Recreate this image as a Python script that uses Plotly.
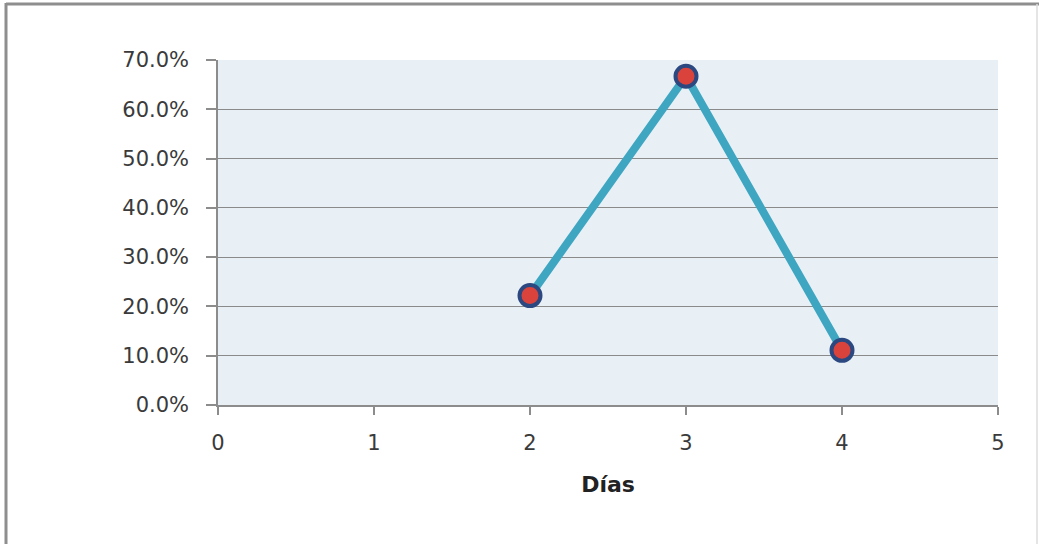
import plotly.graph_objects as go

# Share of cases by number of days
dias = [2, 3, 4]
porcentaje = [0.222, 0.667, 0.111]

x_ticks = [0, 1, 2, 3, 4, 5]
y_ticks = [0, 0.1, 0.2, 0.3, 0.4, 0.5, 0.6, 0.7]
y_labels = ["0.0%", "10.0%", "20.0%", "30.0%", "40.0%", "50.0%", "60.0%", "70.0%"]

fig = go.Figure()
fig.add_trace(go.Scatter(
    x=dias, y=porcentaje, mode="lines+markers",
    line=dict(color="#3FA6C2", width=8),
    marker=dict(size=21, color="#D9433B", line=dict(color="#2B4880", width=4)),
    hoverinfo="x+y", showlegend=False,
))

axis_font = dict(family="DejaVu Sans", size=21, color="#3A3A3A")
fig.update_xaxes(
    range=[0, 5], tickvals=x_ticks, ticktext=[str(v) for v in x_ticks],
    showgrid=False, zeroline=False, showline=True, linecolor="#8C8C8C", linewidth=1.5,
    ticks="outside", ticklen=8, tickcolor="#8C8C8C", tickwidth=1.5,
    tickfont=axis_font, ticklabelstandoff=10,
    title=dict(text="<b>Días</b>", font=dict(family="DejaVu Sans", size=22, color="#222222"), standoff=23),
)
fig.update_yaxes(
    range=[0, 0.7], tickvals=y_ticks, ticktext=y_labels,
    showgrid=True, gridcolor="#8A8A8A", gridwidth=1,
    zeroline=False, showline=True, linecolor="#8C8C8C", linewidth=1.5,
    ticks="outside", ticklen=10, tickcolor="#8C8C8C", tickwidth=1.5,
    tickfont=axis_font, ticklabelstandoff=13,
)

# Outer chart frame
fig.add_shape(type="line", xref="paper", yref="paper", x0=-212/780, x1=-212/780,
              y0=-139/345, y1=1 + 57/345, line=dict(color="#8E8E8E", width=3))
fig.add_shape(type="line", xref="paper", yref="paper", x0=-212/780, x1=1 + 41/780,
              y0=1 + 56/345, y1=1 + 56/345, line=dict(color="#8E8E8E", width=3))
fig.add_shape(type="line", xref="paper", yref="paper", x0=1 + 39/780, x1=1 + 39/780,
              y0=-139/345, y1=1 + 56/345, line=dict(color="#DDDDDD", width=1.5))

fig.update_layout(
    width=1039, height=544,
    margin=dict(l=218, r=41, t=60, b=139),
    paper_bgcolor="white", plot_bgcolor="#E8F0F5",
)
fig.write_html("out.html")
